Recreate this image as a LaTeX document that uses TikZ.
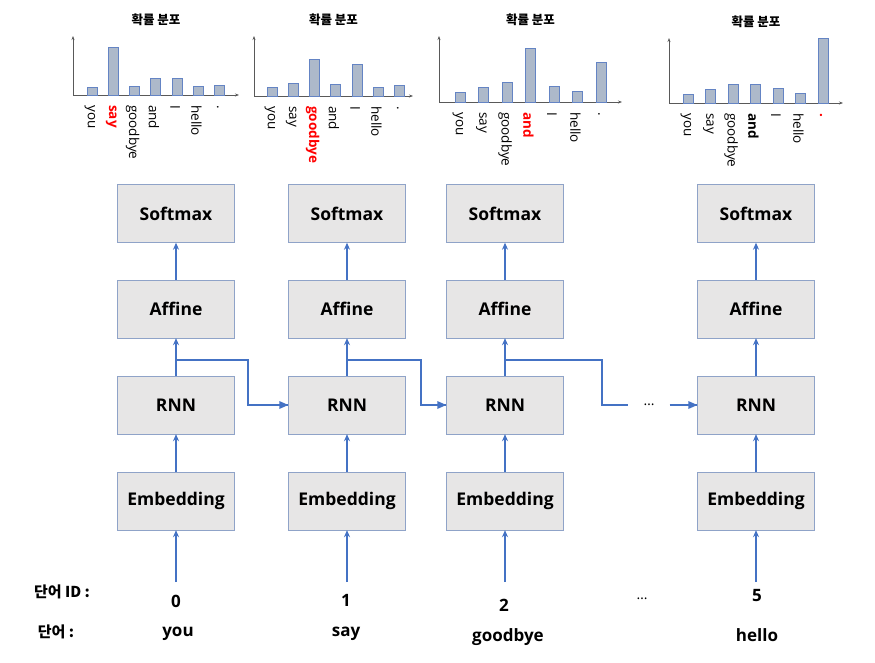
\documentclass[tikz,border=0pt]{standalone}
\usepackage{fontspec}
\setmainfont{Open Sans}
\newfontfamily\kor{Noto Sans CJK KR}
\usetikzlibrary{arrows.meta}
\definecolor{lineblue}{RGB}{68,114,196}
\definecolor{boxfill}{RGB}{231,230,230}
\definecolor{boxline}{RGB}{143,163,200}
\definecolor{barfill}{RGB}{173,185,202}
\definecolor{barline}{RGB}{100,132,196}
\definecolor{axisgray}{RGB}{89,89,89}
\newcommand{\lblfont}{\fontsize{13.5}{15}\selectfont}
\tikzset{
  layer/.style={draw=boxline,fill=boxfill,minimum width=117pt,minimum height=58pt,
    font=\fontsize{17.5}{20}\selectfont\bfseries},
  flow/.style={->,lineblue,line width=1.2pt},
  rec/.style={lineblue,line width=2pt},
  axis/.style={-{Stealth[length=4pt,width=3pt]},axisgray,line width=0.8pt},
  bar/.style={draw=barline,fill=barfill,line width=0.9pt},
  lbl/.style={rotate=-90,anchor=west,inner sep=0pt,font=\lblfont},
  nrm/.style={},
  hot/.style={text=red,font=\lblfont\bfseries},
  strong/.style={font=\lblfont\bfseries},
  word/.style={font=\fontsize{17}{20}\selectfont\bfseries},
  tag/.style={font=\kor\fontsize{15}{18}\selectfont\bfseries}
}
% #1,#2 origin, #3 x axis length, #4 y axis length, #5 first bar, #6 bar step, #7 bars
\newcommand{\distplot}[7]{%
  \begin{scope}[shift={(#1,#2)}]
    \draw[axis] (0,0) -- (#3,0);
    \draw[axis] (0,0) -- (0,-#4);
    \node[font=\kor\fontsize{12.5}{14}\selectfont\bfseries] at (#3/2,-#4-16) {확률 분포};
    \foreach \h/\st/\lab [count=\i from 0] in {#7}{
      \pgfmathsetmacro\cx{#5+\i*#6}
      \draw[bar] (\cx-5,0) rectangle (\cx+5,-\h);
      \node[lbl,\st] at (\cx-2,10) {\lab};
    }
  \end{scope}}
\begin{document}
\begin{tikzpicture}[x=1pt,y=-1pt,>={Stealth[length=7pt,width=6pt]}]
  \useasboundingbox (0,0) rectangle (875,663);
  % probability plots
  \distplot{73}{95}{166}{59}{19}{21.3}{8/nrm/you,48/hot/say,9/nrm/goodbye,17/nrm/and,17/nrm/I,9/nrm/hello,10/nrm/.}
  \distplot{254}{96}{159}{60}{18}{21.3}{9/nrm/you,13/nrm/say,37/hot/goodbye,12/nrm/and,32/nrm/I,9/nrm/hello,11/nrm/.}
  \distplot{439}{102}{183}{66}{21}{23.5}{10/nrm/you,15/nrm/say,20/nrm/goodbye,54/hot/and,16/nrm/I,11/nrm/hello,40/nrm/.}
  \distplot{669}{103}{174}{65}{19}{22.5}{9/nrm/you,14/nrm/say,19/nrm/goodbye,19/strong/and,15/nrm/I,10/nrm/hello,65/hot/.}
  % layers
  \foreach \i/\cx in {1/176,2/347,3/505,4/756}{
    \node[layer] (sm\i) at (\cx,213.5) {Softmax};
    \node[layer] (af\i) at (\cx,309) {Affine};
    \node[layer] (rnn\i) at (\cx,405) {RNN};
    \node[layer] (emb\i) at (\cx,501) {Embedding};
    \coordinate (in\i) at (\cx,582);
    \coordinate (j\i) at (\cx,360);
    \draw[flow] (in\i) -- (emb\i);
    \draw[flow] (emb\i) -- (rnn\i);
    \draw[flow] (rnn\i) -- (af\i);
    \draw[flow] (af\i) -- (sm\i);
  }
  % hidden state
  \node[inner xsep=15pt,inner ysep=0pt,font=\fontsize{14}{16}\selectfont] (skip) at (649,405) {…};
  \draw[rec] (j1) -- ++(72,0) |- (rnn2.west);
  \fill[lineblue] (rnn2.west) -- ++(-9,-4) -- ++(0,8) -- cycle;
  \draw[rec] (j2) -- ++(74,0) |- (rnn3.west);
  \fill[lineblue] (rnn3.west) -- ++(-9,-4) -- ++(0,8) -- cycle;
  \draw[rec] (j3) -- ++(97,0) |- (skip.west);
  \draw[rec] (skip.east) -- (rnn4.west);
  \fill[lineblue] (rnn4.west) -- ++(-9,-4) -- ++(0,8) -- cycle;
  % inputs
  \node[tag] (idtag) at (62,592) {단어 ID :};
  \node[tag] (wtag) at (56,632) {단어 :};
  \node[word] (id1) at (176,601) {0};
  \node[word] (id2) at (346,600) {1};
  \node[word] (id3) at (504,605) {2};
  \node[font=\fontsize{14}{16}\selectfont] (iddots) at (642,599) {…};
  \node[word] (id4) at (757,596) {5};
  \node[word] (w1) at (178,634) {you};
  \node[word] (w2) at (346,634) {say};
  \node[word] (w3) at (508,637) {goodbye};
  \node[word] (w4) at (757,635) {hello};
\end{tikzpicture}
\end{document}
